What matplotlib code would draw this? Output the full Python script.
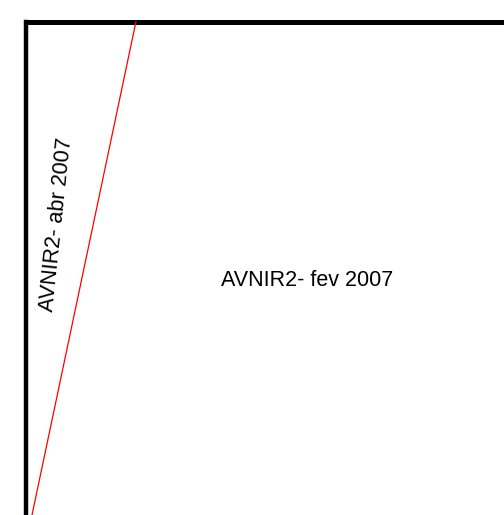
import matplotlib
matplotlib.use("Agg")
import matplotlib.pyplot as plt

plt.rcParams['font.family'] = ['Liberation Sans', 'DejaVu Sans']

# frame (pixel coordinates of the image region)
frame_left_x = [26, 26]
frame_left_y = [515, 21.5]
frame_top_x = [26, 504]
frame_top_y = [21.5, 21.5]

# dividing line between the two scenes
divider_x = [32, 136]
divider_y = [515, 21.5]

# region labels
labels = ["AVNIR2- abr 2007", "AVNIR2- fev 2007"]
label_x = [56.5, 307]
label_y = [225, 280]
label_rot = [84, 0]

fig = plt.figure(figsize=(5.04, 5.15), dpi=100)
ax = fig.add_axes([0, 0, 1, 1])
ax.set_xlim(0, 504)
ax.set_ylim(515, 0)
ax.axis('off')

ax.plot(frame_left_x, frame_left_y, color='black', lw=3.2, solid_capstyle='projecting')
ax.plot(frame_top_x, frame_top_y, color='black', lw=3.6, solid_capstyle='projecting')
ax.plot(divider_x, divider_y, color='#ff0000', lw=0.9)

for t, x, y, r in zip(labels, label_x, label_y, label_rot):
    ax.text(x, y, t, rotation=r, ha='center', va='center', fontsize=15.5, color='black',
            rotation_mode='anchor')

fig.savefig('out.png', dpi=100)
